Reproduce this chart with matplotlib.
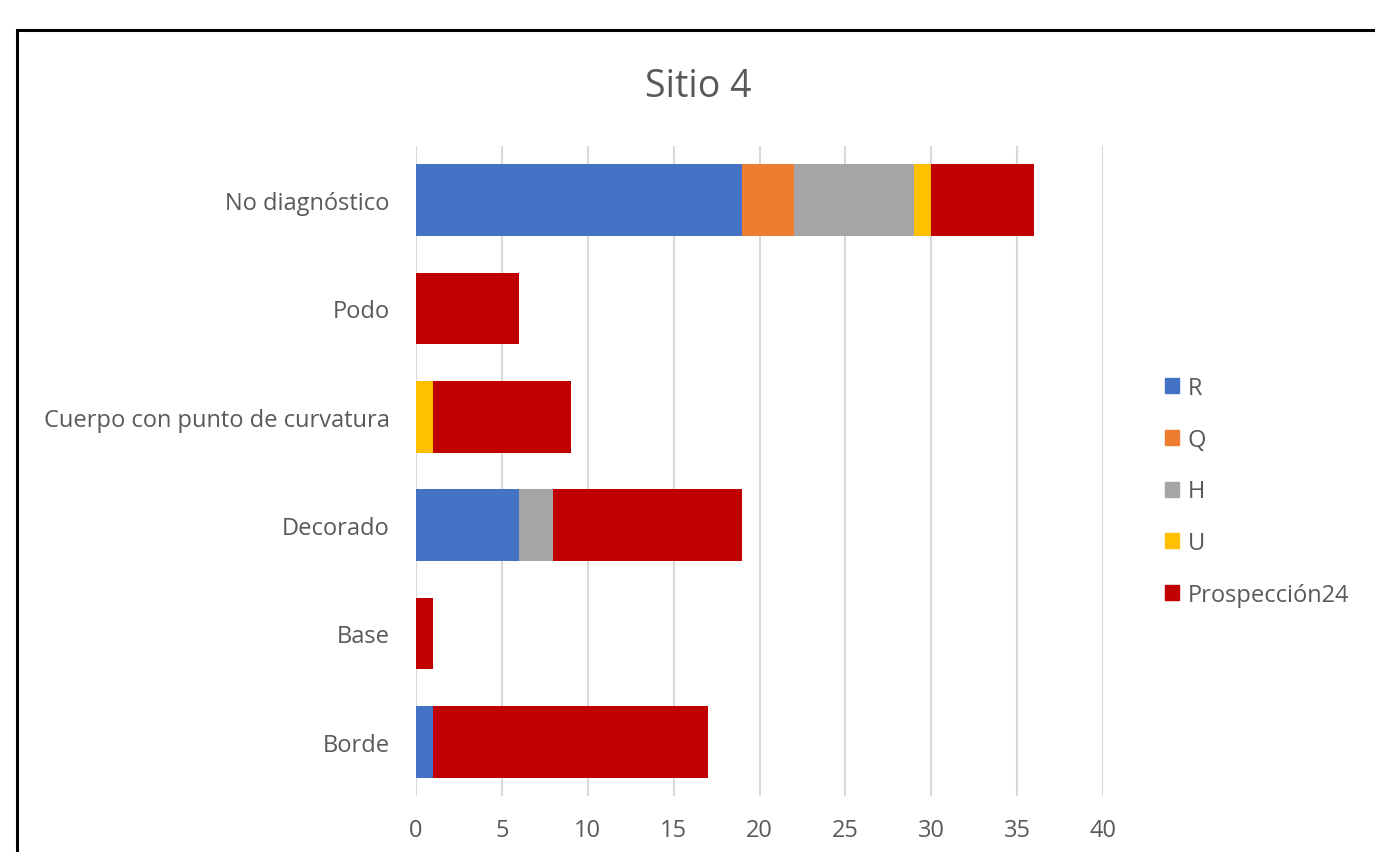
import numpy as np
import matplotlib.pyplot as plt
from matplotlib.patches import Rectangle, Patch

plt.rcParams['font.family'] = ['Open Sans', 'DejaVu Sans']

categorias = ['Borde', 'Base', 'Decorado', 'Cuerpo con punto de curvatura', 'Podo', 'No diagnóstico']
series = ['R', 'Q', 'H', 'U', 'Prospección24']
R = [1, 0, 6, 0, 0, 19]
Q = [0, 0, 0, 0, 0, 3]
H = [0, 0, 2, 0, 0, 7]
U = [0, 0, 0, 1, 0, 1]
P24 = [16, 1, 11, 8, 6, 6]
colores = ['#4472C4', '#ED7D31', '#A5A5A5', '#FFC000', '#C00000']

W, Hpx = 1375, 853
fig = plt.figure(figsize=(W / 100, Hpx / 100), dpi=100)

# chart frame (cut off on right and bottom)
fig.patches.append(Rectangle((17 / W, -0.2), 1.2, 1.2 - 31 / Hpx, transform=fig.transFigure,
                             fill=False, edgecolor='black', linewidth=2.2))

ax = fig.add_axes([416 / W, 1 - 797 / Hpx, (1103 - 416) / W, (797 - 147) / Hpx])
y = np.arange(len(categorias))
left = np.zeros(len(categorias))
for nombre, vals, c in zip(series, [R, Q, H, U, P24], colores):
    vals = np.array(vals, dtype=float)
    ax.barh(y, vals, left=left, height=0.66, color=c, label=nombre, zorder=3)
    left += vals

ax.set_xlim(0, 40)
ax.set_ylim(-0.5, 5.5)
ax.set_xticks(range(0, 41, 5))
ax.set_yticks(y)
ax.set_yticklabels(categorias)
ax.grid(axis='x', color='#D9D9D9', linewidth=1.5, zorder=0)
for s in ax.spines.values():
    s.set_visible(False)
ax.tick_params(axis='both', length=0, labelsize=17, colors='#595959')
ax.tick_params(axis='y', pad=19)
ax.tick_params(axis='x', pad=16)

fig.text(698 / W, 1 - 87 / Hpx, 'Sitio 4', ha='center', va='center', fontsize=27, color='#595959')

handles = [Patch(color=c) for c in colores]
fig.legend(handles, series, loc='upper left', bbox_to_anchor=(1144 / W, 1 - 356 / Hpx),
           frameon=False, fontsize=17, labelcolor='#595959', handlelength=0.6, handleheight=0.6,
           handletextpad=0.35, labelspacing=1.17)

fig.savefig('out.png', dpi=100)
